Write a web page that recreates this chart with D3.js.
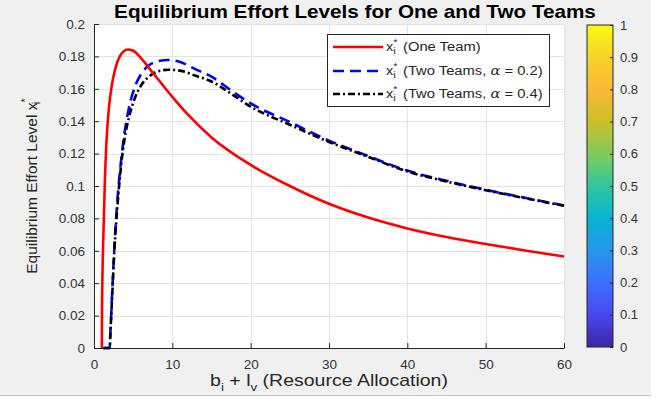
<!DOCTYPE html>
<html>
<head>
<meta charset="utf-8">
<script src="https://cdn.jsdelivr.net/npm/d3@7"></script>
<style>
  body { margin: 0; background: #fff; }
  svg { display: block; font-family: "Liberation Sans", Arial, sans-serif; }
</style>
</head>
<body>
<div id="chart"></div>
<script>
// resource allocation b_i + l_v (x values) and effort levels
const oneTeamX = [1.0, 1.02, 1.1, 1.2, 1.4, 1.6, 1.9, 2.3, 2.7, 3.3, 4.3, 5.0, 6.0, 7.0, 8.0, 10, 12, 15, 20, 25, 30, 35, 40, 45, 50, 55, 60];
const oneTeamY = [0, 0.02, 0.05, 0.07, 0.105, 0.128, 0.148, 0.163, 0.172, 0.18, 0.1843, 0.1835, 0.179, 0.173, 0.167, 0.155, 0.144, 0.13, 0.113, 0.1, 0.089, 0.0805, 0.0738, 0.0685, 0.0642, 0.0602, 0.0565];

const twoTeamX = [1.2, 2.0, 2.1, 2.3, 2.6, 3.0, 3.4, 3.9, 4.5, 5.2, 6.0, 7.0, 8.0, 9.5, 11, 13, 15, 17.5, 20, 25, 30, 35, 40, 45, 50, 55, 60];
const alpha02Y = [0, 0, 0.01, 0.032, 0.062, 0.092, 0.113, 0.133, 0.149, 0.161, 0.169, 0.1745, 0.1768, 0.1778, 0.1765, 0.172, 0.1675, 0.159, 0.151, 0.1395, 0.128, 0.1185, 0.1095, 0.1032, 0.0977, 0.0927, 0.088];
const alpha04Y = [0, 0, 0.01, 0.03, 0.06, 0.088, 0.11, 0.129, 0.143, 0.154, 0.162, 0.1675, 0.1705, 0.1718, 0.1712, 0.168, 0.1645, 0.157, 0.149, 0.1378, 0.1272, 0.118, 0.109, 0.1028, 0.0974, 0.0925, 0.0878];

const xTicks = [0, 10, 20, 30, 40, 50, 60];
const yTicks = [0, 0.02, 0.04, 0.06, 0.08, 0.1, 0.12, 0.14, 0.16, 0.18, 0.2];
const cbTicks = [0, 0.1, 0.2, 0.3, 0.4, 0.5, 0.6, 0.7, 0.8, 0.9, 1];
// parula colormap stops
const parula = ["#3e26a8", "#4748eb", "#3e6fff", "#2796eb", "#08b4d0", "#31c6a0", "#80cc59", "#ccbf2c", "#fbb838", "#f5d32a", "#f9fb15"];

const width = 664;
const height = 403;
const plot = { left: 94, right: 564, top: 24, bottom: 348 };
const txt = "#262626";

const svg = d3.select("#chart").append("svg")
  .attr("width", width).attr("height", height);

// figure background
svg.append("rect").attr("x", 0).attr("y", 0).attr("width", 651).attr("height", 395).attr("fill", "#f0f0f0");
svg.append("line").attr("x1", 0).attr("x2", 651).attr("y1", 395.5).attr("y2", 395.5).attr("stroke", "#c8c8c8");

const x = d3.scaleLinear().domain([0, 60]).range([plot.left, plot.right]);
const y = d3.scaleLinear().domain([0, 0.2]).range([plot.bottom, plot.top]);

svg.append("rect")
  .attr("x", plot.left).attr("y", plot.top)
  .attr("width", plot.right - plot.left).attr("height", plot.bottom - plot.top)
  .attr("fill", "#fff");

// grid
const grid = svg.append("g").attr("stroke", "#e3e3e3").attr("stroke-width", 1);
grid.selectAll(".gx").data(xTicks).enter().append("line")
  .attr("x1", d => Math.round(x(d)) + 0.5).attr("x2", d => Math.round(x(d)) + 0.5)
  .attr("y1", plot.top).attr("y2", plot.bottom);
grid.selectAll(".gy").data(yTicks).enter().append("line")
  .attr("y1", d => Math.round(y(d)) + 0.5).attr("y2", d => Math.round(y(d)) + 0.5)
  .attr("x1", plot.left).attr("x2", plot.right);

// axes
const xAxis = svg.append("g")
  .attr("transform", `translate(0,${plot.bottom})`)
  .call(d3.axisBottom(x).tickValues(xTicks).tickSizeInner(-5).tickSizeOuter(0).tickPadding(11));
const yAxis = svg.append("g")
  .attr("transform", `translate(${plot.left},0)`)
  .call(d3.axisLeft(y).tickValues(yTicks).tickSizeInner(-5).tickSizeOuter(0).tickPadding(9).tickFormat(d => d3.format("")(+d.toFixed(2))));
[xAxis, yAxis].forEach(a => {
  a.select(".domain").attr("stroke", txt);
  a.selectAll(".tick line").attr("stroke", txt);
  a.selectAll("text").attr("fill", "#333").style("font-size", "13.5px");
});

// series lines
const line = d3.line().x(d => x(d[0])).y(d => y(d[1])).curve(d3.curveMonotoneX);
const series = [
  { pts: d3.zip(twoTeamX, alpha02Y), color: "#0000ff", dash: "11,6" },
  { pts: d3.zip(twoTeamX, alpha04Y), color: "#000000", dash: "7,3,2,3" },
  { pts: d3.zip(oneTeamX, oneTeamY), color: "#ff0000", dash: null }
];
svg.append("g").selectAll("path").data(series).enter().append("path")
  .attr("d", d => line(d.pts))
  .attr("fill", "none")
  .attr("stroke", d => d.color)
  .attr("stroke-width", 2.6)
  .attr("stroke-dasharray", d => d.dash);

// text placed at (tx,ty), stretched horizontally a bit like the original export
function wideText(tx, ty, sx, rot) {
  return svg.append("g")
    .attr("transform", `translate(${tx},${ty})` + (rot ? ` rotate(${rot})` : "") + ` scale(${sx},1)`)
    .append("text").attr("fill", txt);
}

// legend
svg.append("rect").attr("x", 327.5).attr("y", 34.5).attr("width", 222).attr("height", 72)
  .attr("fill", "#fff").attr("stroke", txt).attr("stroke-width", 1);
const legItems = [
  { s: series[2], label: "(One Team)", alpha: null },
  { s: series[0], label: "(Two Teams, ", alpha: "0.2" },
  { s: series[1], label: "(Two Teams, ", alpha: "0.4" }
];
const rowY = [47, 71, 94];
legItems.forEach((it, i) => {
  svg.append("line")
    .attr("x1", 333).attr("x2", 383).attr("y1", rowY[i]).attr("y2", rowY[i])
    .attr("stroke", it.s.color).attr("stroke-width", 2.6).attr("stroke-dasharray", it.s.dash);
  const sym = wideText(386, rowY[i] + 4, 1.2).style("font-size", "12px");
  sym.append("tspan").text("x");
  sym.append("tspan").attr("dy", -6).style("font-size", "9px").text("*");
  sym.append("tspan").attr("x", 6).attr("dy", 9).style("font-size", "9px").text("i");
  const t = wideText(403, rowY[i] + 4, 1.23).style("font-size", "12px");
  t.append("tspan").text(it.label);
  if (it.alpha) {
    t.append("tspan").style("font-family", "'DejaVu Serif', serif").style("font-style", "italic").text("α");
    t.append("tspan").text(" = " + it.alpha + ")");
  }
});

// colorbar
const cb = { x: 587, w: 26, top: 25, bottom: 347 };
const grad = svg.append("defs").append("linearGradient").attr("id", "parula")
  .attr("x1", 0).attr("y1", 1).attr("x2", 0).attr("y2", 0);
grad.selectAll("stop").data(parula).enter().append("stop")
  .attr("offset", (d, i) => i / (parula.length - 1))
  .attr("stop-color", d => d);
svg.append("rect").attr("x", cb.x).attr("y", cb.top).attr("width", cb.w).attr("height", cb.bottom - cb.top)
  .attr("fill", "url(#parula)").attr("stroke", txt).attr("stroke-width", 1);
const c = d3.scaleLinear().domain([0, 1]).range([cb.bottom, cb.top]);
const cbAxis = svg.append("g")
  .attr("transform", `translate(${cb.x + cb.w},0)`)
  .call(d3.axisRight(c).tickValues(cbTicks).tickSizeInner(-3).tickSizeOuter(0).tickPadding(7).tickFormat(d => d3.format("")(+d.toFixed(1))));
cbAxis.select(".domain").remove();
cbAxis.selectAll(".tick line").attr("stroke", txt);
cbAxis.selectAll("text").attr("fill", "#333").style("font-size", "13px");

// title
wideText(355, 18, 1.15).attr("text-anchor", "middle")
  .attr("fill", "#000").style("font-size", "18px").style("font-weight", "bold")
  .text("Equilibrium Effort Levels for One and Two Teams");

// x label
const xl = wideText((plot.left + plot.right) / 2, 386, 1.22)
  .attr("text-anchor", "middle").style("font-size", "16px");
xl.append("tspan").text("b");
xl.append("tspan").attr("dy", 5).style("font-size", "11px").text("i");
xl.append("tspan").attr("dy", -5).text(" + l");
xl.append("tspan").attr("dy", 5).style("font-size", "11px").text("v");
xl.append("tspan").attr("dy", -5).text(" (Resource Allocation)");

// y label
const yl = wideText(37, (plot.top + plot.bottom) / 2, 1.0, -90)
  .attr("text-anchor", "middle").style("font-size", "15.5px");
yl.append("tspan").text("Equilibrium Effort Level x");
yl.append("tspan").attr("dy", -8).style("font-size", "11px").text("*");
yl.append("tspan").attr("dx", -6).attr("dy", 11).style("font-size", "11px").text("i");
</script>
</body>
</html>
